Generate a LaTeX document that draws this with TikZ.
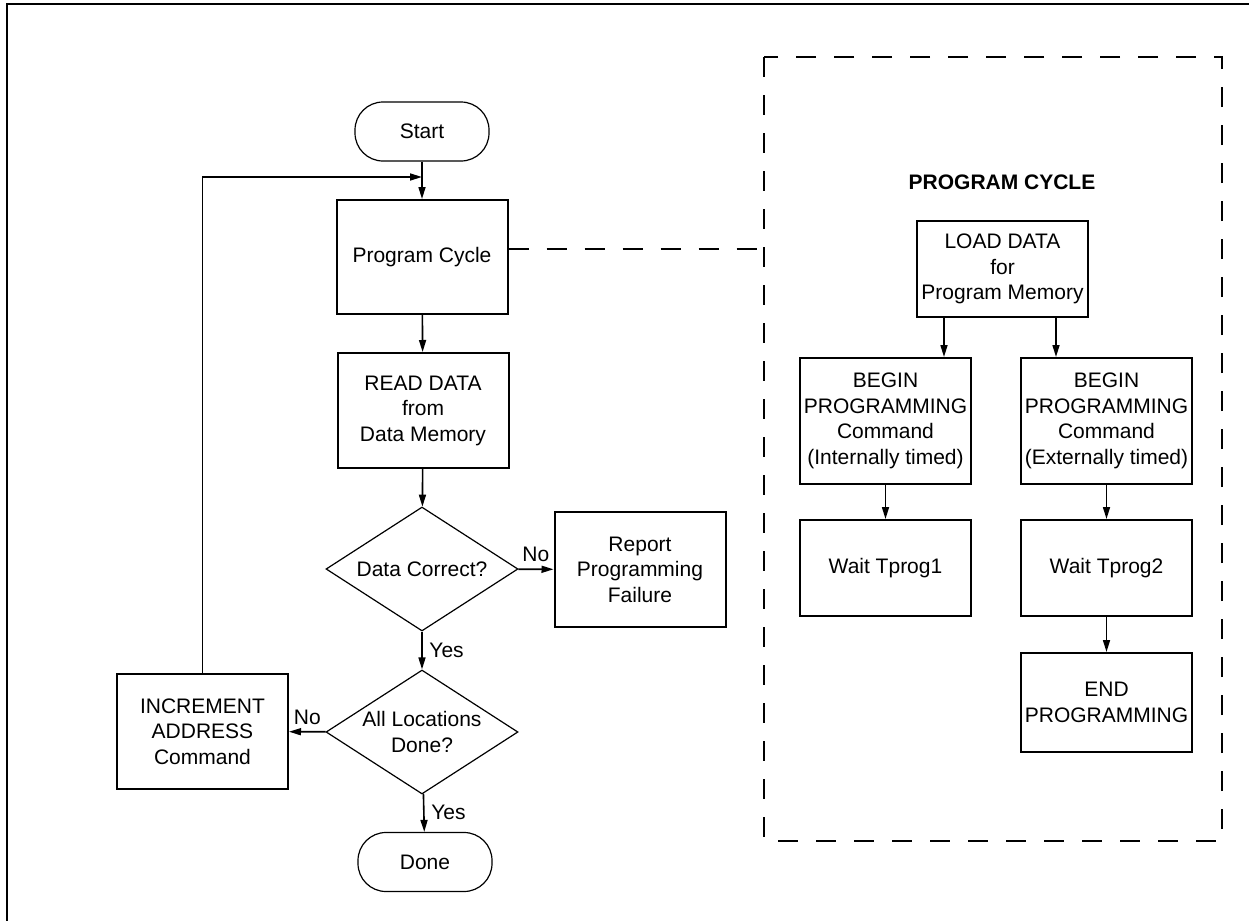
\documentclass[tikz,border=0pt]{standalone}
\usepackage{fontspec}
\setmainfont{Liberation Sans}
\usetikzlibrary{arrows.meta,shapes.geometric}

\tikzset{
  box/.style={draw, line width=1pt, minimum width=85.5pt, inner sep=1pt, align=center},
  term/.style={draw, line width=0.6pt, rounded corners=14pt, minimum width=67pt, minimum height=29.5pt},
  decision/.style={draw, diamond, line width=0.6pt, aspect=1.55, inner sep=0pt,
    minimum width=96pt, minimum height=62pt, align=center},
  flow/.style={->, line width=0.8pt},
  cycleline/.style={line width=0.9pt, dash pattern=on 10pt off 9pt}
}

\begin{document}
\begin{tikzpicture}
	[>={Triangle[length=6pt,width=3.5pt]}, x=0.5pt, y=-0.5pt, auto,
	font=\fontsize{10.5}{12.75}\selectfont]
	\useasboundingbox (0,0) rectangle (1249,921);
	\draw[line width=1pt] (7,922) -- (7,4) -- (1250,4);

	% main flow
	\node[term] (start) at (422,131.5) {Start};
	\node[box, minimum height=57pt] (prog) at (422,257) {Program Cycle};
	\node[box, minimum height=57.5pt] (read) at (423,410.5) {READ DATA\\from\\Data Memory};
	\node[decision] (correct) at (422,569) {Data Correct?};
	\node[box, minimum height=57.5pt] (report) at (640,569.5) {Report\\Programming\\Failure};
	\node[decision] (alldone) at (422,732) {All Locations\\Done?};
	\node[term] (done) at (425,862) {Done};
	\node[box, minimum height=57.5pt] (incr) at (202.5,731.5) {INCREMENT\\ADDRESS\\Command};
	\coordinate (join) at (422,177);

	\path[flow] (start) edge (prog)
	(prog) edge (read)
	(read) edge (correct)
	(correct) edge node [above] {No} (report)
	(correct) edge node {Yes} (alldone)
	(alldone) edge node [above] {No} (incr)
	(alldone) edge node {Yes} (done);
	\draw[flow] (incr.north) |- (join);

	% program cycle detail
	\draw[cycleline] (764,57) rectangle (1222,841);
	\coordinate (pc) at (764,249);
	\draw[cycleline] (prog.east |- pc) -- (pc);
	\node[font=\fontsize{10.5}{12.75}\selectfont\bfseries] (title) at (1002,182) {PROGRAM CYCLE};
	\node[box, minimum height=48pt] (load) at (1002.5,269) {LOAD DATA\\for\\Program Memory};
	\node[box, minimum height=63pt] (beginI) at (885.5,421) {BEGIN\\PROGRAMMING\\Command\\(Internally timed)};
	\node[box, minimum height=63pt] (beginE) at (1106.5,421) {BEGIN\\PROGRAMMING\\Command\\(Externally timed)};
	\node[box, minimum height=48pt] (wait1) at (885.5,568) {Wait Tprog1};
	\node[box, minimum height=48pt] (wait2) at (1106.5,568) {Wait Tprog2};
	\node[box, minimum height=49.5pt] (endp) at (1106.5,702.5) {END\\PROGRAMMING};

	\draw[flow] ([xshift=-29.25pt]load.south) -- ([xshift=-29.25pt]load.south |- beginI.north);
	\draw[flow] ([xshift=26.75pt]load.south) -- ([xshift=26.75pt]load.south |- beginE.north);
	\path[flow] (beginI) edge (wait1)
	(beginE) edge (wait2)
	(wait2) edge (endp);
\end{tikzpicture}
\end{document}
